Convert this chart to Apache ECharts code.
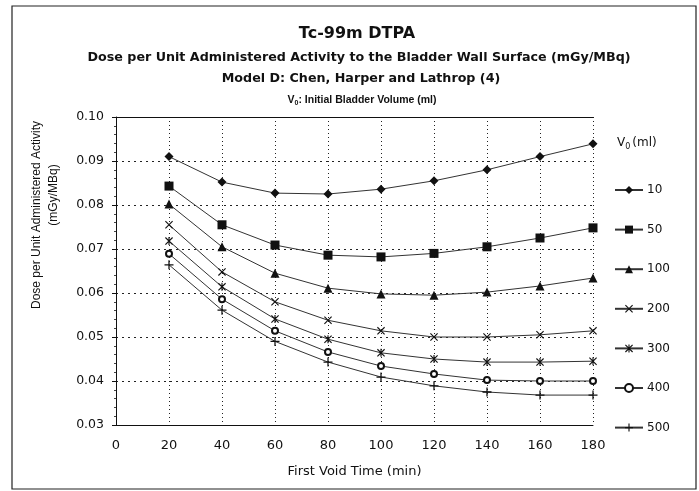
<!DOCTYPE html>
<html>
<head>
<meta charset="utf-8">
<script src="https://cdn.jsdelivr.net/npm/echarts@6/dist/echarts.min.js"></script>
<style>html,body{margin:0;padding:0;background:#fff}#c{width:699px;height:491px}</style>
</head>
<body>
<div id="c"></div>
<script>
var voidTimes = [20, 40, 60, 80, 100, 120, 140, 160, 180];
var volumes = ['10', '50', '100', '200', '300', '400', '500'];
var dose10  = [0.0910, 0.0852, 0.0827, 0.0825, 0.0836, 0.0855, 0.0880, 0.0910, 0.0939];
var dose50  = [0.0843, 0.0755, 0.0709, 0.0686, 0.0682, 0.0690, 0.0705, 0.0725, 0.0748];
var dose100 = [0.0802, 0.0705, 0.0645, 0.0611, 0.0598, 0.0595, 0.0602, 0.0616, 0.0634];
var dose200 = [0.0755, 0.0648, 0.0580, 0.0538, 0.0514, 0.0500, 0.0500, 0.0505, 0.0514];
var dose300 = [0.0718, 0.0614, 0.0541, 0.0495, 0.0464, 0.0450, 0.0443, 0.0443, 0.0445];
var dose400 = [0.0689, 0.0586, 0.0514, 0.0466, 0.0434, 0.0416, 0.0402, 0.0400, 0.0400];
var dose500 = [0.0664, 0.0561, 0.0490, 0.0443, 0.0409, 0.0389, 0.0375, 0.0368, 0.0368];
var xTicks = [0, 20, 40, 60, 80, 100, 120, 140, 160, 180];
var yTicks = ['0.03', '0.04', '0.05', '0.06', '0.07', '0.08', '0.09', '0.10'];

var FONT = '"Liberation Sans", Arial, Helvetica, sans-serif';
var WIDE = '"DejaVu Sans", Verdana, sans-serif';
var INK = '#111';
var allDose = [dose10, dose50, dose100, dose200, dose300, dose400, dose500];

var PLUS = 'path://M4.3,0H5.7V4.3H10V5.7H5.7V10H4.3V5.7H0V4.3H4.3Z';
var CROSS = 'path://M0,1L1,0L10,9L9,10Z M9,0L10,1L1,10L0,9Z';
var STAR = 'path://M4.3,0H5.7V10H4.3Z M0,1L1,0L10,9L9,10Z M9,0L10,1L1,10L0,9Z';
var symbols = [
  {s: 'diamond', z: 9},
  {s: 'rect', z: 9},
  {s: 'triangle', z: 9},
  {s: CROSS, z: 8},
  {s: STAR, z: 8},
  {s: 'emptyCircle', z: 6},
  {s: PLUS, z: 9}
];

var series = volumes.map(function (v, i) {
  var empty = symbols[i].s === 'emptyCircle';
  return {
    name: v,
    type: 'line',
    data: voidTimes.map(function (t, j) { return [t, allDose[i][j]]; }),
    symbol: symbols[i].s,
    symbolSize: symbols[i].z,
    showAllSymbol: true,
    lineStyle: {color: '#333', width: 1},
    itemStyle: empty ? {color: INK, borderColor: INK, borderWidth: 1} : {color: INK, borderWidth: 0},
    emphasis: {disabled: true},
    animation: false
  };
});

var chart = echarts.init(document.getElementById('c'), null, {renderer: 'canvas'});
chart.setOption({
  backgroundColor: '#fff',
  animation: false,
  title: [
    {text: 'Tc-99m DTPA', left: 352, textAlign: 'center', top: 21,
     textStyle: {fontFamily: WIDE, fontSize: 16, fontWeight: 'bold', color: INK}},
    {text: 'Dose per Unit Administered Activity to the Bladder Wall Surface (mGy/MBq)', left: 354, textAlign: 'center', top: 46,
     textStyle: {fontFamily: WIDE, fontSize: 12.7, fontWeight: 'bold', color: INK}},
    {text: 'Model D: Chen, Harper and Lathrop (4)', left: 356, textAlign: 'center', top: 67,
     textStyle: {fontFamily: WIDE, fontSize: 12.7, fontWeight: 'bold', color: INK}},
    {text: 'V{sub|0}: Initial Bladder Volume (ml)', left: 357, textAlign: 'center', top: 89,
     textStyle: {fontFamily: FONT, fontSize: 10.5, fontWeight: 'bold', color: INK,
       rich: {sub: {fontSize: 7, fontWeight: 'bold', verticalAlign: 'bottom', padding: [6, 0, 0, 0], fontFamily: FONT, color: INK}}}}
  ],
  grid: {left: 116, right: 106, top: 117, bottom: 66, containLabel: false},
  legend: {
    data: volumes,
    orient: 'vertical',
    left: 614,
    top: 184,
    padding: 0,
    itemWidth: 28,
    itemHeight: 10,
    itemGap: 27.6,
    selectedMode: false,
    textStyle: {fontFamily: WIDE, fontSize: 12, color: INK, padding: [0, 0, 0, -1]}
  },
  xAxis: [{
    type: 'value', min: 0, max: 180, interval: 20,
    name: 'First Void Time (min)', nameLocation: 'middle', nameGap: 40,
    nameTextStyle: {fontFamily: WIDE, fontSize: 13, color: INK},
    axisLine: {show: true, lineStyle: {color: INK, width: 1}},
    axisTick: {show: false},
    axisLabel: {fontFamily: WIDE, fontSize: 13, color: INK, margin: 14,
      formatter: function (v) { return xTicks.indexOf(v) >= 0 ? String(v) : ''; }},
    splitLine: {show: true, lineStyle: {color: '#222', type: [1, 3], width: 1}}
  }, {
    type: 'value', min: 0, max: 180, position: 'top',
    axisLine: {show: true, onZero: false, lineStyle: {color: INK, width: 1.2}},
    axisTick: {show: false}, axisLabel: {show: false}, splitLine: {show: false}
  }],
  yAxis: {
    type: 'value', min: 0.03, max: 0.10, interval: 0.01,
    axisLine: {show: true, lineStyle: {color: INK, width: 1}},
    axisTick: {show: true, length: 4, inside: false, lineStyle: {color: INK}},
    minorTick: {show: true, splitNumber: 5, length: 2, lineStyle: {color: '#444'}},
    axisLabel: {fontFamily: WIDE, fontSize: 12.5, color: INK, margin: 12,
      formatter: function (v) {
        var s = v.toFixed(2);
        return yTicks.indexOf(s) >= 0 ? s : '';
      }},
    splitLine: {show: true, lineStyle: {color: '#222', type: [2, 4], width: 1}}
  },
  graphic: [
    {type: 'rect', shape: {x: 12, y: 6, width: 684, height: 483},
     style: {fill: 'none', stroke: '#222', lineWidth: 1.2}, silent: true},
    {type: 'text', x: 37, y: 215, rotation: Math.PI / 2,
     style: {text: 'Dose per Unit Administered Activity', fontFamily: FONT, fontSize: 12,
       fill: INK, align: 'center', verticalAlign: 'middle'}},
    {type: 'text', x: 54, y: 195, rotation: Math.PI / 2,
     style: {text: '(mGy/MBq)', fontFamily: FONT, fontSize: 12,
       fill: INK, align: 'center', verticalAlign: 'middle'}},
    {type: 'text', x: 617, y: 143,
     style: {text: 'V{sub|0}(ml)', fontFamily: WIDE, fontSize: 12, fill: INK,
       verticalAlign: 'middle',
       rich: {sub: {fontSize: 8, fontFamily: WIDE, fill: INK, verticalAlign: 'bottom', padding: [8, 2, 0, 0]}}}}
  ],
  series: series
});
</script>
</body>
</html>
